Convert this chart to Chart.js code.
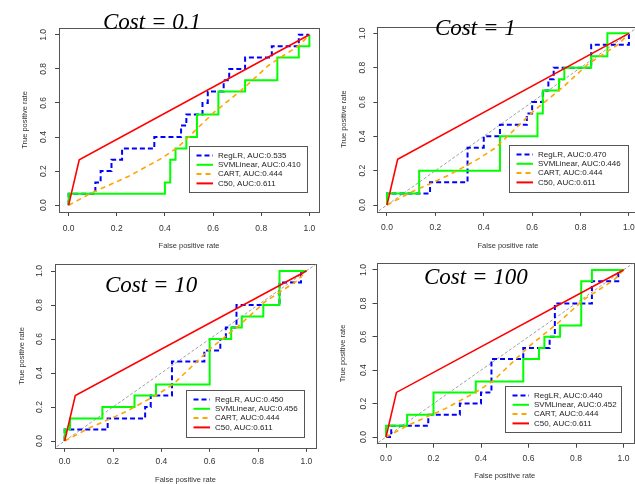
<!DOCTYPE html>
<html>
<head>
<meta charset="utf-8">
<script src="https://cdn.jsdelivr.net/npm/chart.js@4.4.0/dist/chart.umd.min.js"></script>
<style>
html, body { margin:0; padding:0; background:#fff; overflow:hidden; width:635px; height:484px; }
canvas { position:absolute; }
.cost { position:absolute; font:italic 23px 'Liberation Serif', 'Times New Roman', serif; line-height:23px; color:#000; white-space:nowrap; }
</style>
</head>
<body>
<canvas id="c1" width="322" height="250" style="left:0;top:0"></canvas>
<canvas id="c2" width="320" height="250" style="left:322px;top:0"></canvas>
<canvas id="c3" width="322" height="234" style="left:0;top:250px"></canvas>
<canvas id="c4" width="320" height="234" style="left:322px;top:250px"></canvas>
<div class="cost" style="left:103px;top:10px">Cost = 0.1</div>
<div class="cost" style="left:435px;top:16px">Cost = 1</div>
<div class="cost" style="left:105px;top:273px">Cost = 10</div>
<div class="cost" style="left:424px;top:265px">Cost = 100</div>
<script>
// axis ticks
var tickVals = [0, 0.2, 0.4, 0.6, 0.8, 1.0]
var tickLabels = ['0.0', '0.2', '0.4', '0.6', '0.8', '1.0']

var costs = ['0.1', '1', '10', '100']
var models = ['RegLR', 'SVMLinear', 'CART', 'C50']

// AUC per cost panel
var aucRegLR = [0.535, 0.470, 0.450, 0.440]
var aucSVM = [0.410, 0.446, 0.456, 0.452]
var aucCART = [0.444, 0.444, 0.444, 0.444]
var aucC50 = [0.611, 0.611, 0.611, 0.611]

// ROC points [fpr, tpr]
var regLR01 = [[0,0],[0,0.067],[0.111,0.067],[0.111,0.133],[0.133,0.133],[0.133,0.2],[0.178,0.2],[0.178,0.267],[0.222,0.267],[0.222,0.333],[0.356,0.333],[0.356,0.4],[0.467,0.4],[0.467,0.467],[0.489,0.467],[0.489,0.533],[0.556,0.533],[0.556,0.6],[0.578,0.6],[0.578,0.667],[0.644,0.667],[0.644,0.733],[0.667,0.733],[0.667,0.8],[0.733,0.8],[0.733,0.867],[0.844,0.867],[0.844,0.933],[0.956,0.933],[0.956,1],[1,1]]
var regLR1 = [[0,0],[0,0.067],[0.178,0.067],[0.178,0.133],[0.333,0.133],[0.333,0.333],[0.4,0.333],[0.4,0.4],[0.467,0.4],[0.467,0.467],[0.578,0.467],[0.578,0.533],[0.6,0.533],[0.6,0.6],[0.644,0.6],[0.644,0.667],[0.667,0.667],[0.667,0.733],[0.689,0.733],[0.689,0.8],[0.844,0.8],[0.844,0.933],[1,0.933],[1,1]]
var regLR10 = [[0,0],[0,0.067],[0.178,0.067],[0.178,0.133],[0.333,0.133],[0.333,0.2],[0.356,0.2],[0.356,0.267],[0.444,0.267],[0.444,0.467],[0.578,0.467],[0.578,0.533],[0.644,0.533],[0.644,0.6],[0.667,0.6],[0.667,0.667],[0.711,0.667],[0.711,0.8],[0.889,0.8],[0.889,0.933],[0.978,0.933],[0.978,1],[1,1]]
var regLR100 = [[0,0],[0.022,0],[0.022,0.067],[0.178,0.067],[0.178,0.133],[0.311,0.133],[0.311,0.2],[0.4,0.2],[0.4,0.267],[0.444,0.267],[0.444,0.467],[0.578,0.467],[0.578,0.533],[0.689,0.533],[0.689,0.6],[0.711,0.6],[0.711,0.8],[0.867,0.8],[0.867,0.933],[0.978,0.933],[0.978,1],[1,1]]

var svm01 = [[0,0],[0,0.067],[0.4,0.067],[0.4,0.133],[0.422,0.133],[0.422,0.267],[0.444,0.267],[0.444,0.333],[0.489,0.333],[0.489,0.4],[0.533,0.4],[0.533,0.533],[0.622,0.533],[0.622,0.667],[0.733,0.667],[0.733,0.733],[0.867,0.733],[0.867,0.867],[0.956,0.867],[0.956,0.933],[1,0.933],[1,1]]
var svm1 = [[0,0],[0,0.067],[0.133,0.067],[0.133,0.2],[0.467,0.2],[0.467,0.4],[0.622,0.4],[0.622,0.533],[0.644,0.533],[0.644,0.667],[0.711,0.667],[0.711,0.733],[0.733,0.733],[0.733,0.8],[0.844,0.8],[0.844,0.867],[0.911,0.867],[0.911,1],[1,1]]
var svm10 = [[0,0],[0,0.067],[0.022,0.067],[0.022,0.133],[0.156,0.133],[0.156,0.2],[0.289,0.2],[0.289,0.267],[0.378,0.267],[0.378,0.333],[0.6,0.333],[0.6,0.6],[0.689,0.6],[0.689,0.667],[0.733,0.667],[0.733,0.733],[0.822,0.733],[0.822,0.8],[0.889,0.8],[0.889,1],[1,1]]
var svm100 = [[0,0],[0,0.067],[0.089,0.067],[0.089,0.133],[0.2,0.133],[0.2,0.267],[0.378,0.267],[0.378,0.333],[0.578,0.333],[0.578,0.467],[0.644,0.467],[0.644,0.533],[0.667,0.533],[0.667,0.6],[0.733,0.6],[0.733,0.667],[0.822,0.667],[0.822,0.933],[0.867,0.933],[0.867,1],[1,1]]

var cart = [[0,0],[0.1,0.075],[0.25,0.17],[0.38,0.27],[0.45,0.335],[0.52,0.43],[0.6,0.54],[0.73,0.69],[0.83,0.82],[0.96,0.94],[1,1]]
var c50 = [[0,0],[0.044,0.267],[1,1]]
var diagonal = [[-0.05,-0.05],[1.05,1.05]]

var regLR = [regLR01, regLR1, regLR10, regLR100]
var svm = [svm01, svm1, svm10, svm100]

// canvas layout of the four panels
var panels = [
    {id:'c1', yw:59,   padR:3,   top:28,   xh:38,   yt:20.5, yp:5.8, xp:7.5, xtb:0,   diag:false, leg:{right:12, bottom:20, width:118, height:46}},
    {id:'c2', yw:55.3, padR:3.4, top:26.5, xh:38.1, yt:17.5, yp:4.7, xp:6.5, xtb:0,   diag:true,  leg:{right:11, bottom:20, width:119, height:47}},
    {id:'c3', yw:55,   padR:6,   top:14.2, xh:36.2, yt:17.5, yp:5.1, xp:5,   xtb:0,   diag:true,  leg:{right:12, bottom:11, width:118, height:47}},
    {id:'c4', yw:54.5, padR:9,   top:13.3, xh:40.3, yt:16.5, yp:3.3, xp:5.5, xtb:3.5, diag:true,  leg:{right:12, bottom:11.5, width:116, height:46}}
]

Chart.defaults.font.family = "'Liberation Sans', Arial, sans-serif"
Chart.defaults.color = '#333'

function toXY(pts) {
    return pts.map(function (p) { return {x: p[0], y: p[1]} })
}

var frame = {
    id: 'frame',
    beforeDatasetsDraw: function (chart) {
        var a = chart.chartArea, c = chart.ctx
        c.save()
        c.strokeStyle = '#555'
        c.lineWidth = 1
        c.strokeRect(Math.round(a.left) + 0.5, Math.round(a.top) + 0.5, Math.round(a.right - a.left), Math.round(a.bottom - a.top))
        c.restore()
    }
}

var boxLegend = {
    id: 'boxLegend',
    afterDatasetsDraw: function (chart, args, o) {
        var a = chart.chartArea, c = chart.ctx
        var x = Math.round(a.right - o.right - o.width), y = Math.round(a.bottom - o.bottom - o.height)
        c.save()
        c.fillStyle = '#fff'
        c.fillRect(x, y, o.width, o.height)
        c.strokeStyle = '#555'
        c.lineWidth = 1
        c.strokeRect(x + 0.5, y + 0.5, o.width, o.height)
        c.font = "8px 'Liberation Sans', Arial, sans-serif"
        c.textBaseline = 'middle'
        var items = chart.data.datasets.filter(function (d) { return d.label })
        items.sort(function (p, q) { return q.order - p.order })
        items.forEach(function (d, i) {
            var ly = y + 9.5 + i * 9.3
            c.strokeStyle = d.borderColor
            c.lineWidth = 2
            c.setLineDash(d.borderDash || [])
            c.beginPath()
            c.moveTo(x + 7.5, ly)
            c.lineTo(x + 24, ly)
            c.stroke()
            c.setLineDash([])
            c.fillStyle = '#222'
            c.fillText(d.label, x + 29, ly)
        })
        c.restore()
    }
}

function makeChart(p, i) {
    var datasets = [
        {label: models[0] + ', AUC:' + aucRegLR[i].toFixed(3), data: toXY(regLR[i]), borderColor: '#0000ff', borderWidth: 2, borderDash: [5, 3], order: 3},
        {label: models[1] + ', AUC:' + aucSVM[i].toFixed(3), data: toXY(svm[i]), borderColor: '#00ff00', borderWidth: 2, order: 2},
        {label: models[2] + ', AUC:' + aucCART[i].toFixed(3), data: toXY(cart), borderColor: '#ffa500', borderWidth: 1.6, borderDash: [5, 4], order: 1},
        {label: models[3] + ', AUC:' + aucC50[i].toFixed(3), data: toXY(c50), borderColor: '#ff0000', borderWidth: 1.6, order: 0}
    ]
    if (p.diag) {
        datasets.push({label: '', data: toXY(diagonal), borderColor: '#888', borderWidth: 0.8, borderDash: [3, 2], order: 5})
    }
    datasets.forEach(function (d) {
        d.showLine = true
        d.pointRadius = 0
        d.tension = 0
        d.fill = false
    })

    var tickFont = {size: 8.5}
    var titleFont = {size: 7.5}

    new Chart(document.getElementById(p.id), {
        type: 'scatter',
        data: {datasets: datasets},
        plugins: [frame, boxLegend],
        options: {
            responsive: false,
            animation: false,
            devicePixelRatio: 1,
            layout: {padding: {left: 0, right: p.padR, top: p.top, bottom: 0}},
            plugins: {
                legend: {display: false},
                tooltip: {enabled: false},
                boxLegend: p.leg
            },
            scales: {
                x: {
                    type: 'linear',
                    min: -0.04,
                    max: 1.04,
                    afterBuildTicks: function (s) { s.ticks = tickVals.map(function (v) { return {value: v} }) },
                    afterFit: function (s) { s.height = p.xh; s.paddingLeft = 0; s.paddingRight = 0 },
                    grid: {display: true, drawOnChartArea: false, drawTicks: true, tickLength: 4, color: '#444'},
                    border: {display: false},
                    ticks: {
                        font: tickFont, color: '#333', padding: p.xp, maxRotation: 0, autoSkip: false,
                        callback: function (v, idx) { return tickLabels[idx] }
                    },
                    title: {display: true, text: 'False positive rate', font: titleFont, color: '#333', padding: {top: 0, bottom: p.xtb}}
                },
                y: {
                    type: 'linear',
                    min: -0.04,
                    max: 1.04,
                    afterBuildTicks: function (s) { s.ticks = tickVals.map(function (v) { return {value: v} }) },
                    afterFit: function (s) { s.width = p.yw; s.paddingTop = 0; s.paddingBottom = 0 },
                    grid: {display: true, drawOnChartArea: false, drawTicks: true, tickLength: 4, color: '#444'},
                    border: {display: false},
                    ticks: {
                        font: tickFont, color: '#333', padding: p.yp, minRotation: 90, maxRotation: 90,
                        crossAlign: 'center', autoSkip: false,
                        callback: function (v, idx) { return tickLabels[idx] }
                    },
                    title: {display: true, text: 'True positive rate', font: titleFont, color: '#333', padding: {top: p.yt, bottom: 0}}
                }
            }
        }
    })
}

panels.forEach(makeChart)
</script>
</body>
</html>
